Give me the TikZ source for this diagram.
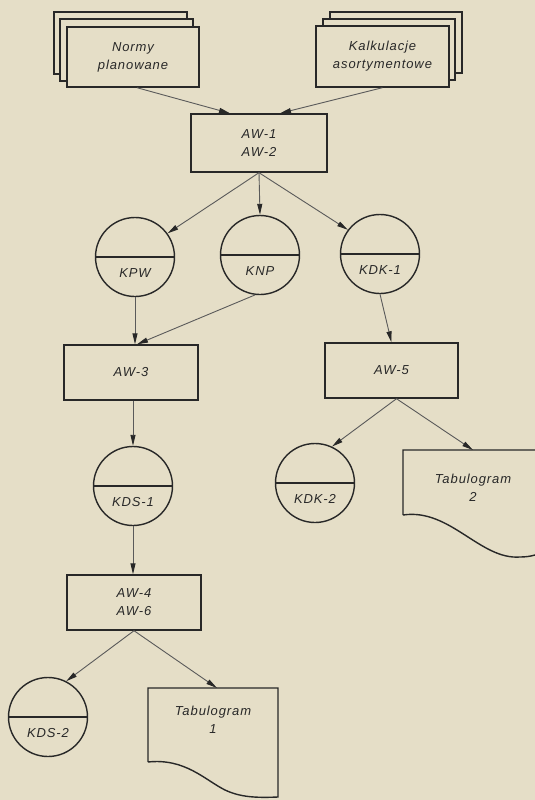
\documentclass[tikz,border=0pt]{standalone}
\usepackage{fontspec}
\setmainfont{Liberation Sans}
\newfontfamily\labfont[LetterSpace=7]{Liberation Sans}
\usetikzlibrary{arrows.meta,calc}
\definecolor{paper}{RGB}{229,222,199}
\definecolor{ink}{RGB}{40,40,40}
\definecolor{arrowink}{RGB}{90,90,90}
\begin{document}
\begin{tikzpicture}[x=1pt,y=-1pt,
  every node/.style={font=\labfont\itshape\fontsize{13}{18}\selectfont, text=ink},
  box/.style={draw=ink, fill=paper, line width=1.4pt, rectangle, align=center, inner sep=0pt},
  layer/.style={draw=ink, line width=1.4pt, fill=paper},
  outline/.style={draw=ink, line width=1.4pt},
  disk/.style={draw=ink, line width=1.4pt, circle, minimum size=79pt, inner sep=0pt,
    path picture={\draw[ink, line width=1.4pt] (path picture bounding box.west) -- (path picture bounding box.east);}},
  flow/.style={draw=arrowink, line width=0.9pt, -{Triangle[length=11pt,width=5pt,color=ink]}},
]
\fill[paper] (0,0) rectangle (535,800);
\useasboundingbox (0,0) rectangle (535,800);
\clip (0,0) rectangle (535,800);

% left stack
\draw[layer] (54,12) rectangle (187,74);
\draw[layer] (60,19) rectangle (193,81);
\node[box, minimum width=132pt, minimum height=60pt] (normy) at (133,57) {Normy\\planowane};
% right stack
\draw[layer] (330,12) rectangle (462,73);
\draw[layer] (323,19) rectangle (455,80);
\node[box, minimum width=133pt, minimum height=61pt] (kalk) at (382.5,56.5) {Kalkulacje\\asortymentowe};

\node[box, minimum width=136pt, minimum height=58pt] (aw12) at (259,143) {AW-1\\AW-2};

\node[disk, label={[yshift=-16pt]center:KPW}] (kpw) at (135,257) {};
\node[disk, label={[yshift=-16pt]center:KNP}] (knp) at (260,255) {};
\node[disk, label={[yshift=-16pt]center:KDK-1}] (kdk1) at (380,254) {};

\node[box, minimum width=134pt, minimum height=55pt] (aw3) at (131,372.5) {AW-3};
\node[box, minimum width=133pt, minimum height=55pt] (aw5) at (391.5,370.5) {AW-5};

\node[disk, label={[yshift=-16pt]center:KDS-1}] (kds1) at (133,486) {};
\node[disk, label={[yshift=-16pt]center:KDK-2}] (kdk2) at (315,483) {};

% Tabulogram 2
\draw[outline] (403,515) -- (403,450) -- (550,450) -- (550,550)
  .. controls (538,554) and (532,557) .. (520,557)
  .. controls (480,560) and (450,508) .. (403,515);
\node[align=center, minimum width=140pt, minimum height=76pt, anchor=north, inner sep=0pt] (tab2) at (473,450) {Tabulogram\\2};

\node[box, minimum width=134pt, minimum height=55pt] (aw4) at (134,602.5) {AW-4\\AW-6};

\node[disk, label={[yshift=-16pt]center:KDS-2}] (kds2) at (48,717) {};

% Tabulogram 1
\draw[outline] (148,762) -- (148,688) -- (278,688) -- (278,797)
  .. controls (255,798) and (240,797) .. (225,790)
  .. controls (205,780) and (185,758) .. (148,762);
\node[align=center, minimum width=130pt, minimum height=64pt, anchor=north, inner sep=0pt] (tab1) at (213,688) {Tabulogram\\1};

% connectors
\draw[flow] ([xshift=4pt]normy.south) -- ([xshift=-29pt]aw12.north);
\draw[flow] (kalk.south) -- ([xshift=21pt]aw12.north);
\draw[flow] (aw12.south) -- (kpw.36);
\draw[flow] (aw12.south) -- (knp.north);
\draw[flow] (aw12.south) -- (kdk1.143);
\draw[flow] (kpw.south) -- (kpw.south |- aw3.north);
\draw[flow] (knp.-97) -- ([xshift=6pt]aw3.north);
\draw[flow] (kdk1.south) -- (aw5.north);
\draw[flow] (kds1.north |- aw3.south) -- (kds1.north);
\draw[flow] ([xshift=5pt]aw5.south) -- (kdk2.65);
\draw[flow] ([xshift=5pt]aw5.south) -- (tab2.north);
\draw[flow] (kds1.south) -- (kds1.south |- aw4.north);
\draw[flow] (aw4.south) -- (kds2.63);
\draw[flow] (aw4.south) -- ([xshift=4pt]tab1.north);
\end{tikzpicture}
\end{document}
